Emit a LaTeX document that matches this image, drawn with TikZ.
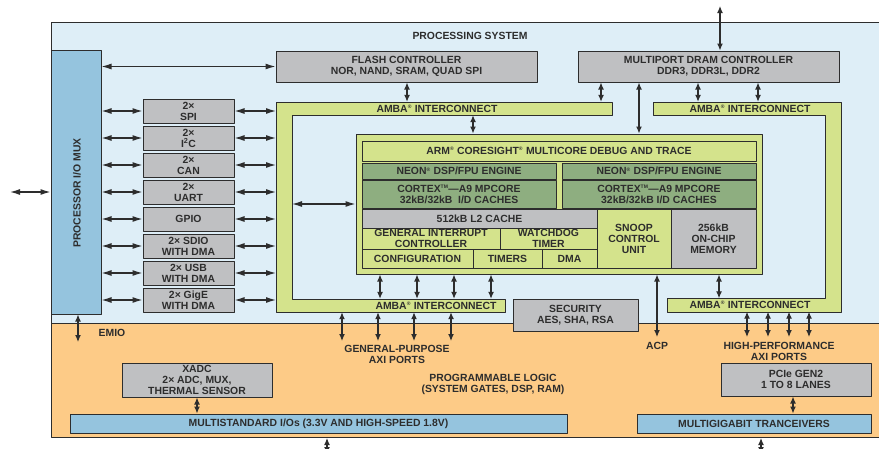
\documentclass[tikz,border=0pt]{standalone}
\usepackage{fontspec}
\setmainfont{Liberation Sans}
\usetikzlibrary{arrows.meta}
\definecolor{psblue}{RGB}{222,238,247}
\definecolor{plorange}{RGB}{253,203,135}
\definecolor{ioblue}{RGB}{149,196,222}
\definecolor{boxgray}{RGB}{191,192,194}
\definecolor{lgreen}{RGB}{212,227,140}
\definecolor{dgreen}{RGB}{142,174,128}
\definecolor{ink}{RGB}{45,45,45}
\def\reg{\textsuperscript{\fontsize{5}{5}\selectfont\textregistered}}
\def\tm{\textsuperscript{\fontsize{5}{5}\selectfont TM}}
\begin{document}
\begin{tikzpicture}[x=1pt,y=-1pt,line join=round,
  font=\fontsize{10.4}{11}\selectfont\bfseries,
  >={Latex[length=7pt,width=6pt]},
  blk/.style={draw=ink,line width=1pt,inner sep=0pt,align=center,text=ink},
  graybox/.style={blk,fill=boxgray},
  lgbox/.style={blk,fill=lgreen},
  dgbox/.style={blk,fill=dgreen},
  iobox/.style={blk,fill=ioblue},
  bartxt/.style={inner sep=0pt,minimum height=13,text=ink},
  lbl/.style={align=center,text=ink,inner sep=0pt},
  link/.style={<->,line width=1.2pt,draw=ink},
  hlink/.style={>={Latex[length=10pt,width=6pt]},link}]
\useasboundingbox (0,0) rectangle (879,448);
% processing system and programmable logic
\node[draw=ink,line width=1pt,fill=psblue,minimum width=850,minimum height=301,
  anchor=north west,inner sep=0pt] (ps) at (51,22) {};
\node[draw=ink,line width=1pt,fill=plorange,minimum width=850,minimum height=114,
  anchor=north west,inner sep=0pt] (pl) at (51,323) {};
\node[lbl] (pstitle) at (470,36) {PROCESSING SYSTEM};
% i/o mux
\node[iobox,minimum width=50,minimum height=264] (mux) at (76,182) {};
\node[lbl,rotate=90] (muxtxt) at (77,193) {PROCESSOR I/O MUX};
\coordinate (extio) at (10,192);
\draw[hlink] (extio) -- (extio -| mux.west);
% controllers
\node[graybox,minimum width=261,minimum height=31] (flash) at (406.5,66.5)
  {FLASH CONTROLLER\\NOR, NAND, SRAM, QUAD SPI};
\node[graybox,minimum width=261,minimum height=31] (dram) at (708.5,66.5)
  {MULTIPORT DRAM CONTROLLER\\DDR3, DDR3L, DDR2};
\coordinate (ddrio) at (720,6);
\draw[link] (ddrio) -- (ddrio |- dram.north);
\draw[hlink] (mux.east |- flash) -- (flash.west);
% amba interconnects
\draw[fill=lgreen,draw=ink,line width=1pt] (276,102) -- (612,102) -- (612,115)
  -- (292,115) -- (292,299) -- (505,299) -- (505,312) -- (276,312) -- cycle;
\draw[fill=lgreen,draw=ink,line width=1pt] (653,102) -- (841,102) -- (841,312)
  -- (667,312) -- (667,298) -- (825,298) -- (825,115) -- (653,115) -- cycle;
\node[bartxt] (ambaLt) at (437,108.5) {AMBA\reg{} INTERCONNECT};
\node[bartxt] (ambaLb) at (436,305.5) {AMBA\reg{} INTERCONNECT};
\node[bartxt] (ambaRt) at (750,108.5) {AMBA\reg{} INTERCONNECT};
\node[bartxt] (ambaRb) at (750,305) {AMBA\reg{} INTERCONNECT};
\coordinate (ambaLx) at (276,0);
\coordinate (ambaLin) at (292,204);
% peripherals
\foreach \name/\txt [count=\i] in {spi/{2×\\SPI},i2c/{2×\\I\textsuperscript{2}C},
  can/{2×\\CAN},uart/{2×\\UART},gpio/{GPIO},sdio/{2× SDIO\\WITH DMA},
  usb/{2× USB\\WITH DMA},gige/{2× GigE\\WITH DMA}}{
  \pgfmathsetmacro\yy{84+27*\i}
  \node[graybox,minimum width=91,minimum height=24] (\name) at (188.5,\yy) {\txt};
  \draw[hlink] (mux.east |- \name) -- (\name.west);
  \draw[hlink] (\name.east) -- (ambaLx |- \name);
}
% application processor unit
\node[lgbox,minimum width=406,minimum height=140] (core) at (559,204) {};
\node[lgbox,minimum width=394,minimum height=20] (debug) at (559,151)
  {ARM\reg{} CORESIGHT\reg{} MULTICORE DEBUG AND TRACE};
\node[dgbox,minimum width=194,minimum height=16] (neonL) at (459,171) {NEON\reg{} DSP/FPU ENGINE};
\node[dgbox,minimum width=194,minimum height=16] (neonR) at (659,171) {NEON\reg{} DSP/FPU ENGINE};
\node[dgbox,minimum width=194,minimum height=28] (cpuL) at (459,194)
  {CORTEX\tm{}—A9 MPCORE\\32kB/32kB\ \ I/D CACHES};
\node[dgbox,minimum width=194,minimum height=28] (cpuR) at (659,194)
  {CORTEX\tm{}—A9 MPCORE\\32kB/32kB I/D CACHES};
\node[graybox,minimum width=235,minimum height=19] (l2) at (479.5,218.5) {512kB L2 CACHE};
\node[lgbox,minimum width=138,minimum height=21] (gic) at (431,238.5)
  {GENERAL INTERRUPT\\CONTROLLER};
\node[lgbox,minimum width=97,minimum height=21] (wdt) at (548.5,238.5) {WATCHDOG\\TIMER};
\node[lgbox,minimum width=111,minimum height=19] (config) at (417.5,258.5) {CONFIGURATION};
\node[lgbox,minimum width=69,minimum height=19] (timers) at (507.5,258.5) {TIMERS};
\node[lgbox,minimum width=55,minimum height=19] (dma) at (569.5,258.5) {DMA};
\node[lgbox,minimum width=74,minimum height=59] (scu) at (634,238.5) {SNOOP\\CONTROL\\UNIT};
\node[graybox,minimum width=85,minimum height=59] (ocm) at (713.5,238.5) {256kB\\ON-CHIP\\MEMORY};
% links inside the processing system
\draw[link] (407,0 |- flash.south) -- (407,0 |- ambaLt.north);
\draw[link] (601,0 |- dram.south) -- (601,0 |- ambaLt.north);
\draw[link] (639,0 |- dram.south) -- (639,0 |- core.north);
\foreach \x in {698,758}
  \draw[link] (\x,0 |- dram.south) -- (\x,0 |- ambaRt.north);
\draw[link] (473,0 |- ambaLt.south) -- (473,0 |- core.north);
\draw[hlink] (ambaLin) -- (ambaLin -| core.west);
\foreach \x in {380,417,454,491}
  \draw[link] (\x,0 |- core.south) -- (\x,0 |- ambaLb.north);
\draw[link] (719,0 |- core.south) -- (719,0 |- ambaRb.north);
\node[graybox,minimum width=125,minimum height=32] (sec) at (575.5,315)
  {SECURITY\\AES, SHA, RSA};
% programmable logic
\coordinate (gp) at (0,341);
\coordinate (hp) at (0,337);
\foreach \x in {342,378,414,451}
  \draw[link] (\x,0 |- ambaLb.south) -- (\x,0 |- gp);
\foreach \x in {747,768,789,809}
  \draw[link] (\x,0 |- ambaRb.south) -- (\x,0 |- hp);
\draw[link] (657,0 |- core.south) -- (657,0 |- hp);
\coordinate (emio) at (78,342);
\draw[link] (emio |- mux.south) -- (emio);
\node[lbl] (emiotxt) at (112,333) {EMIO};
\node[lbl] (gptxt) at (397,354) {GENERAL-PURPOSE\\AXI PORTS};
\node[lbl] (acptxt) at (657,346) {ACP};
\node[lbl] (hptxt) at (779,351) {HIGH-PERFORMANCE\\AXI PORTS};
\node[lbl] (pltxt) at (493,384) {PROGRAMMABLE LOGIC\\(SYSTEM GATES, DSP, RAM)};
\node[graybox,minimum width=150,minimum height=34] (xadc) at (197,380)
  {XADC\\2× ADC, MUX,\\THERMAL SENSOR};
\node[iobox,minimum width=497,minimum height=19] (msio) at (318.5,423.5)
  {MULTISTANDARD I/Os (3.3V AND HIGH-SPEED 1.8V)};
\node[graybox,minimum width=150,minimum height=33] (pcie) at (796,379.5)
  {PCIe GEN2\\1 TO 8 LANES};
\node[iobox,minimum width=234,minimum height=19] (mgt) at (754,423.5)
  {MULTIGIGABIT TRANCEIVERS};
\draw[link] (xadc.south) -- (xadc.south |- msio.north);
\draw[link] (793,0 |- pcie.south) -- (793,0 |- mgt.north);
\coordinate (pinsA) at (327,454);
\coordinate (pinsB) at (761,454);
\draw[link] (pinsA |- pl.south) -- (pinsA);
\draw[link] (pinsB |- pl.south) -- (pinsB);
\end{tikzpicture}
\end{document}
